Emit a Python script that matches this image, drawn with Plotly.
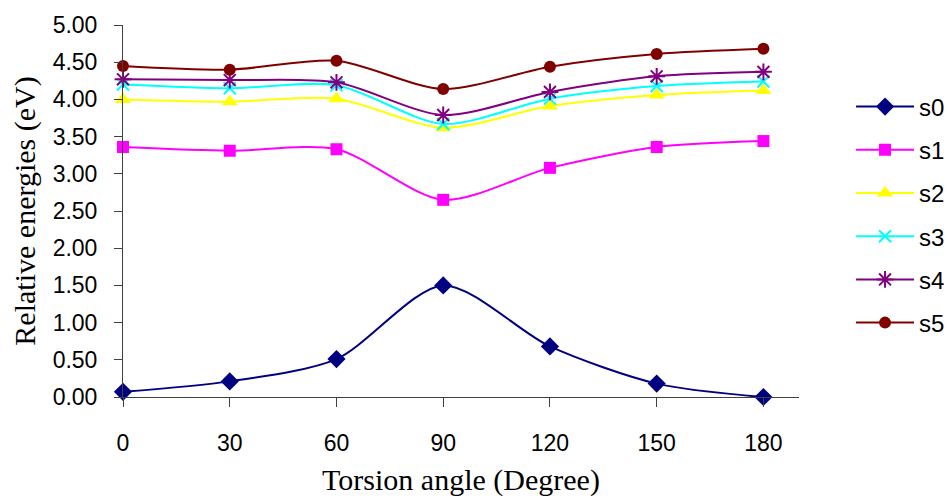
import plotly.graph_objects as go

# Torsion angle (degrees) and relative energies (eV) of each state
angles = [0, 30, 60, 90, 120, 150, 180]
s0 = [0.07, 0.21, 0.51, 1.50, 0.68, 0.18, 0.00]
s1 = [3.36, 3.31, 3.33, 2.65, 3.08, 3.36, 3.44]
s2 = [4.00, 3.97, 4.01, 3.62, 3.91, 4.06, 4.12]
s3 = [4.20, 4.15, 4.19, 3.67, 4.01, 4.18, 4.24]
s4 = [4.27, 4.26, 4.23, 3.79, 4.10, 4.31, 4.37]
s5 = [4.45, 4.40, 4.52, 4.14, 4.44, 4.61, 4.68]

names = ["s0", "s1", "s2", "s3", "s4", "s5"]
series = [s0, s1, s2, s3, s4, s5]
colors = ["#000080", "#FF00FF", "#FFFF00", "#00FFFF", "#800080", "#800000"]
symbols = ["diamond", "square", "triangle-up", "x-thin-open", "asterisk-open", "circle"]
sizes = [14, 12, 14, 12, 14, 12]

y_ticks = [i * 0.5 for i in range(11)]
x_ticks = [0, 30, 60, 90, 120, 150, 180]

fig = go.Figure()
for name, vals, col, sym, sz in zip(names, series, colors, symbols, sizes):
    marker = dict(symbol=sym, size=sz, color=col)
    if sym.endswith("open"):
        marker["line"] = dict(color=col, width=2)
    fig.add_trace(go.Scatter(
        x=angles, y=vals, name=name, legendgroup=name,
        mode="lines+markers",
        line=dict(color=col, width=2, shape="spline", smoothing=0.8),
        marker=marker, cliponaxis=False,
    ))

fig.update_layout(
    width=949, height=504,
    margin=dict(l=123, r=150, t=25, b=107, autoexpand=False),
    paper_bgcolor="white", plot_bgcolor="white",
    font=dict(family="Liberation Sans, Arial, sans-serif", size=23, color="black"),
    showlegend=True,
    legend=dict(x=1.077, y=0.84, xanchor="left", yanchor="top",
                font=dict(size=24), tracegroupgap=9, itemwidth=58,
                bgcolor="rgba(0,0,0,0)"),
    xaxis=dict(
        range=[0, 190], tickvals=x_ticks, ticktext=[str(v) for v in x_ticks],
        showgrid=False, zeroline=False, showline=True, linecolor="#404040",
        linewidth=1, ticks="outside", ticklen=9, tickcolor="#404040",
        ticklabelstandoff=16,
        title=dict(text="Torsion angle (Degree)", standoff=14,
                   font=dict(family="Liberation Serif, Times New Roman, serif", size=30)),
    ),
    yaxis=dict(
        range=[0, 5], tickvals=y_ticks, ticktext=[f"{v:.2f}" for v in y_ticks],
        showgrid=False, zeroline=False, showline=True, linecolor="#404040",
        linewidth=1, ticks="outside", ticklen=8, tickcolor="#404040",
        ticklabelstandoff=12,
        title=dict(text="Relative energies (eV)", standoff=8,
                   font=dict(family="Liberation Serif, Times New Roman, serif", size=30)),
    ),
)

fig.write_html("out.html")
